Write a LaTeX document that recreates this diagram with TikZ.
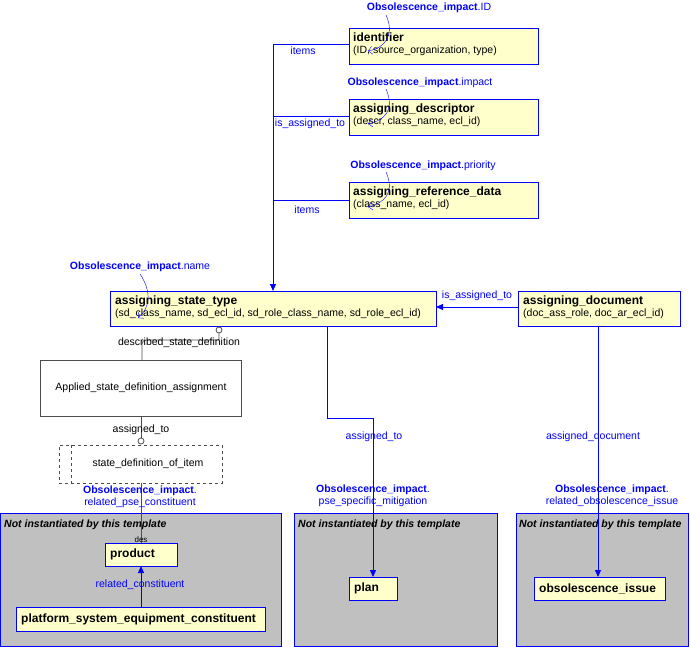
\documentclass[tikz,border=0pt]{standalone}
\usepackage{fontspec}
\setmainfont{Liberation Sans}
\usetikzlibrary{arrows.meta}
\definecolor{ent}{RGB}{255,255,204}
\definecolor{bl}{RGB}{0,0,255}
\definecolor{gr}{RGB}{192,192,192}
\newcommand{\tfont}{\fontsize{12}{12}\selectfont\bfseries}
\begin{document}
\begin{tikzpicture}[x=1pt,y=-1pt,font=\fontsize{10.5}{12}\selectfont,
  ent/.style={draw=bl,line width=1pt,fill=ent,anchor=north west,inner sep=0},
  grp/.style={draw=bl,line width=1pt,fill=gr},
  blab/.style={text=bl},
  rel/.style={draw=bl,line width=1pt},
  arr/.style={rel,-{Triangle[length=7pt,width=6pt]}},
  crv/.style={draw=bl,thin,-{Straight Barb[length=4pt]}},
  blk/.style={draw=black!70,line width=0.8pt}]
\useasboundingbox (0,0) rectangle (690,647);
% groups
\path[grp] (0.5,513) rectangle (281,646.5);
\path[grp] (294,513) rectangle (497,646.5);
\path[grp] (516,513) rectangle (688,646.5);
\foreach \x/\n in {4/g1,298/g2,519/g3}
  \node[anchor=west,inner sep=0,font=\fontsize{10.5}{12}\selectfont\bfseries\itshape] (\n) at (\x,525) {Not instantiated by this template};
% entities
\node[ent,minimum width=189,minimum height=36] (id) at (349,28) {};
\node[anchor=north west,align=left,inner sep=0] (idt) at (353,33) {{\tfont identifier}\\(ID, source\_organization, type)};
\node[ent,minimum width=189,minimum height=36] (ad) at (349,99) {};
\node[anchor=north west,align=left,inner sep=0] (adt) at (353,104) {{\tfont assigning\_descriptor}\\(descr, class\_name, ecl\_id)};
\node[ent,minimum width=189,minimum height=36] (ard) at (349,182) {};
\node[anchor=north west,align=left,inner sep=0] (ardt) at (353,187) {{\tfont assigning\_reference\_data}\\(class\_name, ecl\_id)};
\node[ent,minimum width=326,minimum height=35] (ast) at (110,291) {};
\node[anchor=north west,align=left,inner sep=0] (astt) at (115,296) {{\tfont assigning\_state\_type}\\(sd\_class\_name, sd\_ecl\_id, sd\_role\_class\_name, sd\_role\_ecl\_id)};
\node[ent,minimum width=162,minimum height=35] (adoc) at (518,291) {};
\node[anchor=north west,align=left,inner sep=0] (adoct) at (523,296) {{\tfont assigning\_document}\\(doc\_ass\_role, doc\_ar\_ecl\_id)};
\node[draw=black!70,fill=white,line width=0.8pt,minimum width=201,minimum height=56,anchor=north west] (asda) at (40,360) {};
\node (asdat) at (141,388) {Applied\_state\_definition\_assignment};
\node[draw=black!70,dashed,fill=white,line width=0.8pt,minimum width=163,minimum height=38,anchor=north west] (sdi) at (59,445) {};
\draw[black!70,dashed,line width=0.8pt] (71,445) -- (71,483);
\node (sdit) at (148,464) {state\_definition\_of\_item};
\node[ent,minimum width=72,minimum height=23] (prod) at (105,543) {};
\node[anchor=west,inner sep=0,font=\tfont] (prodt) at (110,554.5) {product};
\node[ent,minimum width=249,minimum height=24] (pse) at (16,607) {};
\node[anchor=west,inner sep=0,font=\tfont] (pset) at (21,619) {platform\_system\_equipment\_constituent};
\node[ent,minimum width=48,minimum height=23] (plan) at (349,577) {};
\node[anchor=west,inner sep=0,font=\tfont] (plant) at (354,588.5) {plan};
\node[ent,minimum width=131,minimum height=23] (oi) at (534,577) {};
\node[anchor=west,inner sep=0,font=\tfont] (oit) at (539,588.5) {obsolescence\_issue};
% coordinates
\coordinate (t) at (273,45);
\coordinate (j1) at (273,117);
\coordinate (j2) at (273,200);
\coordinate (astin) at (273,291);
% blue relations
\draw[rel] (349,45) -- (t);
\draw[rel] (349,117) -- (j1);
\draw[rel] (349,200) -- (j2);
\draw[arr] (t) -- (astin);
\node[blab] (l1) at (303,51) {items};
\node[blab] (l2) at (310,124) {is\_assigned\_to};
\node[blab] (l3) at (307,210) {items};
\draw[arr] (adoc.west|-0,307) -- (436,307);
\node[blab] (l4) at (477,296) {is\_assigned\_to};
\draw[arr] (327,326) -- (327,418) -- (373,418) -- (373,577);
\node[blab] (l5) at (374,437) {assigned\_to};
\draw[arr] (598,326) -- (598,577);
\node[blab] (l6) at (593,437) {assigned\_document};
\node[blab,align=center] (l7) at (373,496) {{\bfseries Obsolescence\_impact}.\\pse\_specific\_mitigation};
\node[blab,align=center] (l8) at (612,496) {{\bfseries Obsolescence\_impact}.\\related\_obsolescence\_issue};
% black relations
\draw[blk] (219,333) -- (219,340) -- (146,340) to[out=180,in=90] (142,344) -- (142,360);
\draw[blk,fill=white] (219,330) circle (3);
\node (l9) at (179,343) {described\_state\_definition};
\draw[blk] (141,416) -- (141,438);
\draw[blk,fill=white] (141,441) circle (3);
\node (l10) at (141,430) {assigned\_to};
\draw[blk] (141,483) -- (141,543);
\node (l11) at (141,540) {\fontsize{8}{8}\selectfont des};
\node[blab,align=center] (l12) at (140,497) {{\bfseries Obsolescence\_impact}.\\related\_pse\_constituent};
\draw[arr] (141,607) -- (141,566);
\node[blab] (l13) at (140,585) {related\_constituent};
% attribute labels
\node[blab] (o1) at (429,8) {{\bfseries Obsolescence\_impact}.ID};
\node[blab] (o2) at (420,83) {{\bfseries Obsolescence\_impact}.impact};
\node[blab] (o3) at (423,166) {{\bfseries Obsolescence\_impact}.priority};
\node[blab] (o4) at (140,267) {{\bfseries Obsolescence\_impact}.name};
\draw[crv] (386,15) .. controls (395,35) and (385,48) .. (368,51);
\draw[crv] (386,89) .. controls (395,110) and (385,120) .. (368,124);
\draw[crv] (386,172) .. controls (395,192) and (385,203) .. (368,207);
\draw[crv] (140,274) .. controls (152,292) and (150,308) .. (138,318);
\end{tikzpicture}
\end{document}
